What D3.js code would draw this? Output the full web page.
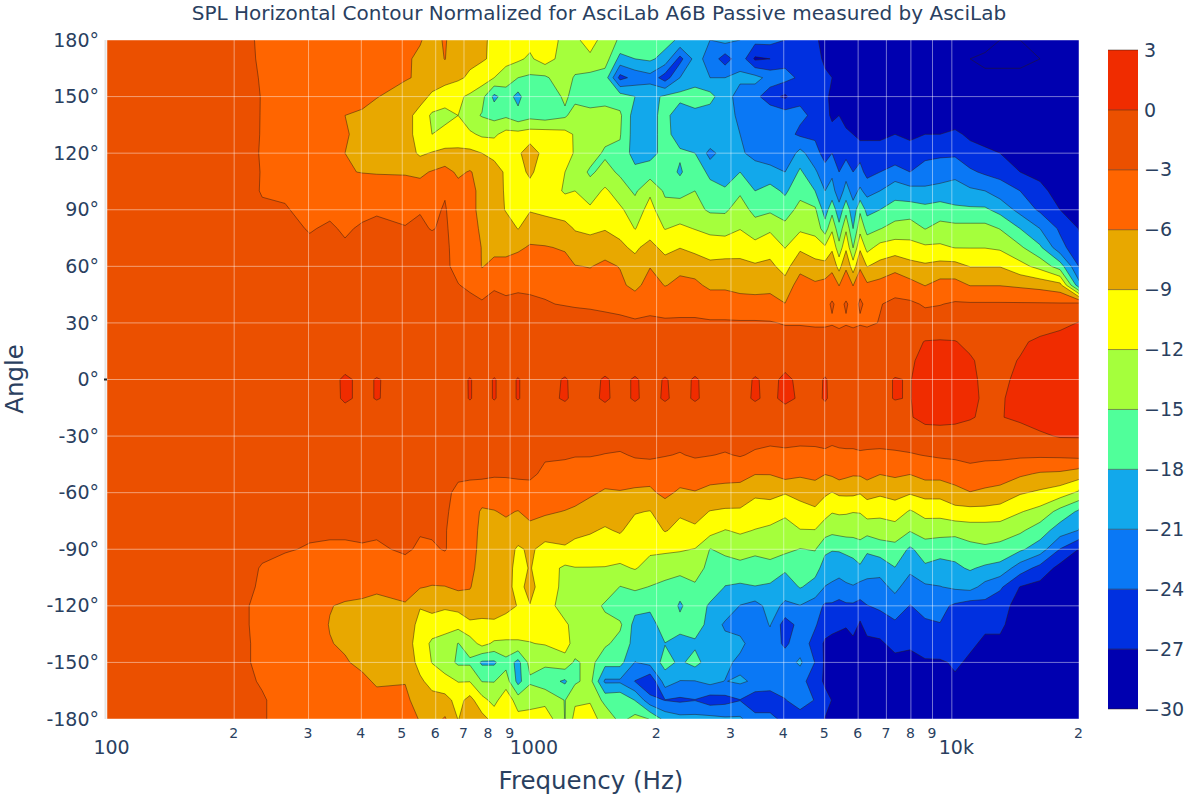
<!DOCTYPE html>
<html>
<head>
<meta charset="utf-8">
<script src="https://cdn.jsdelivr.net/npm/d3@7"></script>
<style>
  html, body { margin: 0; padding: 0; background: #fff; }
  text { font-family: "DejaVu Sans", sans-serif; fill: #2a3f5f; }
  .domain { display: none; }
</style>
</head>
<body>
<div id="chart"></div>
<script>
const frequencies = [100,166,212,233,264,302,337,366,402,435,
  508,551,588,631,678,723,772,825,880,940,
  1003,1089,1214,1282,1392,1510,1639,1778,1930,2094,
  2272,2466,2677,2905,3153,3421,3713,4029,4372,4745,
  5010,5205,5408,5617,5837,6065,6299,6761,7336,7962,
  8642,9378,10177,11045,11985,13005,14507,16173,18039,20000];
const angles = [180,170,160,150,140,130,120,110,100,90,80,70,60,50,40,30,20,10,0,
  -10,-20,-30,-40,-50,-60,-70,-80,-90,-100,-110,-120,-130,-140,-150,-160,-170,-180];
const levels = [-30,-27,-24,-21,-18,-15,-12,-9,-6,-3,0,3];
const bandColors = ['#0000b0','#0030e0','#0a78f5','#12a8eb','#50ff9a','#a5ff3c','#ffff00','#e8a800','#ff6500','#eb5000','#f02c00'];
const angleTicks = [180,150,120,90,60,30,0,-30,-60,-90,-120,-150,-180];
const freqTicks = [100,200,300,400,500,600,700,800,900,1000,2000,3000,4000,5000,6000,7000,8000,9000,10000,20000];
const freqLabels = ['100','2','3','4','5','6','7','8','9','1000','2','3','4','5','6','7','8','9','10k','2'];

const row180 = [-2,-2,-2.5,-3.4,-4,-4.2,-4.5,-4.8,-5,-5.2, -5.5,-5.8,-7,-5.7,-8,-8.3,-8.2,-10,-11,-10.5, -11,-10,-13,-12.5,-11,-13,-15.5,-17,-15,-17, -18.5,-20,-21,-20,-21,-23,-23,-24,-25,-26.5, -28,-28,-27.5,-28,-28,-28,-29,-29,-30,-29.5, -30,-29,-30,-30,-29,-30,-30,-30,-30,-30];
const row170 = [-2,-2,-2.5,-3.3,-3.8,-4,-4.3,-4.6,-5,-5.3, -5.6,-6.5,-7.5,-5.9,-8.5,-8.3,-8.7,-9.5,-11,-11.5, -12.5,-10.5,-13.5,-12.5,-12.5,-13.5,-19,-18,-17.5,-19, -25,-20,-22,-25.5,-22,-27.5,-27,-25,-27,-26, -27.5,-28,-28.5,-28,-29,-28,-27.8,-28.5,-29,-29.5, -29,-29.5,-29.5,-30,-30.5,-30.5,-30.5,-30,-30,-30];
const row160 = [-2,-2,-2.3,-3.2,-3.6,-3.8,-4,-4.5,-5,-5.5, -5.8,-6.3,-7.5,-8,-8.5,-9.5,-10.5,-12,-13.5,-15, -15.5,-15.5,-13,-15.5,-16,-16.5,-25,-23,-22,-25.5, -21,-20.5,-21,-21,-20.5,-20,-22,-23,-24.5,-25.5, -26.5,-27,-27.5,-28,-28.5,-28,-28,-28.5,-28.5,-28, -28.5,-29,-29,-29.5,-29.5,-29.5,-29.5,-30,-30,-30];
const row150 = [-2,-2,-2.2,-3.1,-3.4,-3.6,-3.8,-4.2,-5,-5.9, -7,-8,-9.5,-10.5,-11.5,-12.5,-14,-18.8,-16.5,-19, -15.5,-17,-14.5,-16,-16.5,-16.5,-16.5,-18,-19,-17.5, -17,-15.5,-17,-20,-22,-23,-26,-27.5,-24.5,-25.5, -26.5,-27.5,-27.5,-28,-28,-28.5,-28.5,-29,-29,-29, -28.5,-28.5,-29,-29,-29.5,-29.5,-29.5,-30,-30,-30];
const row140 = [-2,-2,-2.3,-3.1,-3.2,-3.4,-4.5,-6,-6.5,-7, -8,-10,-12.5,-13,-12,-14,-15.2,-16,-15.5,-17, -16,-16.5,-15.5,-13.5,-14,-13.5,-14.5,-19.5,-19,-17, -20,-19.5,-19.5,-20,-21.5,-21,-21.5,-22.5,-23.5,-24.5, -26,-27.5,-27,-28,-27.5,-28,-28,-27.5,-27.5,-28, -28,-28,-28.5,-28.5,-29,-29,-29.5,-30,-30,-30];
const row130 = [-2,-2,-2.4,-3.1,-3.2,-3.4,-4.5,-5.9,-6.3,-7, -8,-10,-12,-11,-11,-11.5,-12.5,-12.5,-11,-11, -10.5,-10.5,-11,-12.3,-13.5,-14,-14.8,-19.5,-19,-17, -19.5,-19,-18,-20,-21,-22,-22,-23,-24.5,-24.5, -25,-26,-27,-26.5,-27,-28,-27.5,-27.5,-27,-27.5, -27,-27,-26.5,-27.5,-28,-28.5,-29,-29.5,-30,-30];
const row120 = [-2,-2,-2.6,-3.1,-3.1,-3.3,-4.4,-6,-6.5,-6.8, -7.5,-9.5,-8.8,-8.3,-8.2,-8.3,-9,-10,-9.8,-9.5, -7.5,-10,-9.8,-12.5,-13.5,-15.5,-15.5,-19.5,-19,-17, -17.5,-18,-22,-19.5,-20.5,-22,-23,-23.5,-20,-23, -25,-24,-26,-25,-26,-25,-26,-26,-26.5,-26, -25,-24.5,-24.5,-26,-26.5,-27,-28,-29,-30,-30];
const row110 = [-2,-2,-2.3,-3.1,-3.1,-3.2,-4,-5.8,-6.1,-6.2, -6.2,-6.5,-5.8,-5,-6.5,-5.8,-7,-7.5,-9.5,-10, -8.5,-10.5,-12,-13,-15.5,-14,-15.5,-17,-16.5,-16, -18.5,-15.5,-19,-20,-18,-19.5,-19.8,-21,-17.5,-20.5, -23,-21.5,-24,-22,-24,-23,-25,-24,-22.5,-24, -22.5,-22.5,-22,-23.5,-24.5,-25,-27,-28,-29,-30];
const row100 = [-2,-2,-2.5,-3.1,-3.2,-3.6,-3.6,-3.8,-4.2,-4.5, -5,-5,-4.5,-3.2,-5,-5,-7,-7.5,-9.4,-9.8, -10,-10.5,-12.3,-12,-13.5,-11.5,-13.5,-15.5,-12.5,-15.5, -16,-15,-16.5,-17.5,-15.5,-18,-17,-18.5,-16,-18, -21,-20,-22.5,-20,-22,-20.5,-22,-21,-19.5,-20, -20.5,-20,-19.5,-20.5,-21,-22.5,-24,-26,-28.5,-29.5];
const row90 = [-2,-2,-2.2,-2.8,-2.9,-3.4,-3.3,-3.6,-3.4,-3.2, -3.5,-3.1,-3.5,-2.8,-4.5,-5,-7,-7.5,-9.2,-9.5, -9.2,-9.5,-10.5,-11,-11.5,-10,-11.5,-13.5,-11,-14, -13.5,-14,-15.5,-15.5,-13.5,-16,-15.5,-16.5,-14,-14.5, -19.5,-16,-20,-16,-20,-15.5,-19,-18,-16.5,-16.5, -17,-16.5,-17.5,-17.5,-17.5,-19,-22,-24.5,-27,-28];
const row80 = [-1.8,-1.8,-2,-2.5,-2.6,-3.1,-2.8,-3.2,-2.8,-2.6, -2.9,-2.7,-3.1,-2.7,-4,-4.8,-6.5,-7,-7.5,-9.1, -7.5,-8,-8,-9.2,-9.5,-9.2,-9.7,-12.1,-10.5,-12.1, -11.5,-12.1,-12.5,-13,-12.1,-13.5,-12.5,-14,-12.5,-13, -16.5,-12.5,-17,-12.5,-18,-13,-16,-15.1,-14,-13.5, -15.1,-14,-14,-14,-14,-15.1,-18,-21,-24.5,-27.1];
const row70 = [-1.6,-1.6,-1.8,-2,-2.2,-2.7,-2.4,-2.8,-2.4,-2.2, -2.6,-2.3,-2.2,-2.5,-4,-4.5,-6.1,-6.5,-6.5,-6.5, -5.7,-5.8,-6.3,-7.5,-8,-7,-8.5,-9.5,-8,-10, -9.1,-10,-11,-10.5,-10,-11,-10,-12.1,-9.5,-10.5, -11.5,-9.5,-14,-9.5,-15.1,-9.5,-13,-11,-10.5,-11, -11.5,-11.5,-12.1,-12.1,-12.1,-12.5,-14.5,-17.5,-23,-26];
const row60 = [-1.5,-1.5,-1.6,-1.7,-1.8,-1.9,-2,-2,-2,-2, -2.1,-2,-2,-2.5,-3.8,-4,-6.1,-5.5,-5.5,-4.5, -4.2,-5,-5,-5.9,-6.1,-5.5,-6.1,-8,-6.1,-7.5, -6.5,-7,-8,-8,-8.3,-8.6,-8.4,-10,-7,-8, -8,-7,-10,-6.5,-10.5,-6.5,-9.1,-8,-7,-8, -8.5,-8,-8,-9.1,-9.1,-9.1,-11,-13,-16.5,-24.1];
const row50 = [-1.4,-1.4,-1.5,-1.5,-1.6,-1.7,-1.8,-1.8,-1.8,-1.9, -1.9,-1.9,-2,-2.2,-2.9,-3.5,-4.8,-3.2,-3.5,-3.2, -3.2,-3.3,-4.5,-4.5,-5,-5,-5.5,-6.7,-5,-6.1, -5.5,-5.5,-6.5,-6.5,-6.8,-7,-6.8,-8,-4.5,-5.5, -5,-4,-6.1,-4,-6.1,-3.5,-5.5,-5,-4,-5, -6.1,-5,-5,-6.1,-6.1,-6.1,-6.5,-7,-8,-20];
const row40 = [-1.3,-1.3,-1.3,-1.4,-1.4,-1.5,-1.5,-1.6,-1.6,-1.6, -1.7,-1.7,-1.7,-1.8,-2,-2.2,-2.5,-2.5,-2.6,-2.7, -2.8,-2.9,-3.1,-3.2,-3.3,-3.5,-3.8,-4.5,-3.8,-4.2, -4,-4,-4.5,-4.5,-5,-5,-5,-5.9,-3.2,-4, -3.5,-2.8,-3.5,-2.8,-3.6,-2.8,-3.3,-3.1,-2.5,-2.5, -3.3,-3.1,-2.7,-2.7,-2.7,-2.7,-2.7,-2.7,-2.7,-2];
const row30 = [-1.2,-1.2,-1.2,-1.2,-1.2,-1.3,-1.3,-1.3,-1.3,-1.3, -1.4,-1.4,-1.4,-1.5,-1.5,-1.6,-1.7,-1.7,-1.7,-1.8, -1.9,-2,-2,-2.1,-2.2,-2.3,-2.4,-2.6,-2.5,-2.6, -2.6,-2.6,-2.7,-2.7,-2.7,-2.7,-2.8,-3.2,-3.2,-3.4, -3.4,-3.2,-3.6,-3.2,-3.5,-3.2,-3.4,-2.9,-2.5,-2, -1.8,-1.7,-1.6,-1.6,-1.6,-1.5,-1.2,-1,-0.6,0.1];
const row20 = [-1.1,-1.1,-1.1,-1.1,-1.1,-1.1,-1.1,-1.1,-1.1,-1.1, -1.2,-1.2,-1.2,-1.2,-1.3,-1.3,-1.3,-1.3,-1.4,-1.4, -1.4,-1.5,-1.5,-1.5,-1.6,-1.6,-1.6,-1.7,-1.7,-1.7, -1.7,-1.7,-1.7,-1.7,-1.7,-1.7,-1.6,-1.7,-1.7,-1.6, -1.6,-1.6,-1.6,-1.6,-1.6,-1.6,-1.6,-1.5,-1.3,-0.8, 0.1,0.2,0.1,-0.6,-1,-1,-0.3,0.4,0.9,1.5];
const row10 = [-0.9,-0.9,-0.9,-0.9,-0.9,-0.9,-0.9,-0.8,-0.9,-0.9, -0.9,-1,-1,-1,-1,-0.9,-0.9,-0.9,-0.9,-0.9, -1,-1,-0.9,-0.9,-1,-0.9,-0.9,-1,-1,-0.9, -1,-1,-1,-1,-1,-0.8,-0.7,-0.5,-0.6,-1, -0.9,-1,-1,-1,-1,-1,-1,-1,-0.8,-0.4, 0.8,1,0.9,0.3,-0.7,-0.5,0.1,0.8,1.2,1.8];
const row0 = [-0.7,-0.7,-0.7,-0.7,-0.7,-0.6,-0.6,0.3,-0.4,0.1, -0.6,-0.6,-0.6,-0.6,-0.5,0.1,-0.6,0.1,-0.5,0.1, -0.6,-0.6,0.15,-0.4,-0.5,0.2,-0.5,0.2,-0.6,0.15, -0.6,0.2,-0.6,-0.6,-0.6,0.15,-0.4,0.3,-0.3,-0.5, 0.15,-0.4,-0.6,-0.6,-0.6,-0.5,-0.5,-0.5,0.1,-0.1, 1,1.2,1,0.5,-0.5,-0.2,0.2,1,1.5,2];
const rowM10 = [-0.8,-0.8,-0.8,-0.8,-0.8,-0.7,-0.7,0.3,-0.4,0.1, -0.7,-0.7,-0.7,-0.7,-0.6,0.1,-0.6,0.1,-0.5,0.1, -0.6,-0.5,0.2,-0.4,-0.4,0.25,-0.5,0.2,-0.5,0.2, -0.5,0.2,-0.5,-0.6,-0.5,0.2,-0.4,0.4,-0.2,-0.5, 0.2,-0.4,-0.5,-0.5,-0.5,-0.5,-0.5,-0.5,0.1,-0.1, 1.2,1.4,1.2,0.6,-0.4,-0.1,0.3,1.2,1.6,2];
const rowM20 = [-1,-1,-1,-1,-1,-1,-1,-0.9,-1,-1, -1,-1,-1,-1,-1,-1,-1,-1,-1,-1, -1,-1,-1,-1,-1,-0.9,-0.9,-1,-1,-1, -1,-1,-1,-1,-1,-1,-1,-0.9,-0.9,-1, -1,-1,-1,-1,-1,-1,-1,-1,-1,-0.2, 0.8,0.9,0.7,0.2,-0.4,-0.1,0.4,1.1,1.3,1.5];
const rowM30 = [-1.3,-1.3,-1.3,-1.3,-1.3,-1.3,-1.3,-1.3,-1.3,-1.3, -1.3,-1.3,-1.3,-1.3,-1.3,-1.3,-1.4,-1.4,-1.4,-1.4, -1.5,-1.5,-1.5,-1.6,-1.6,-1.6,-1.7,-1.7,-1.7,-1.8, -1.8,-1.8,-1.8,-1.9,-1.9,-2,-2,-2,-2,-2, -2,-2,-2,-2,-2,-2,-2,-2,-1.8,-1.6, -1.3,-1.2,-1.2,-1.2,-1.2,-1.3,-1,-0.4,0.2,0.2];
const rowM40 = [-1.5,-1.5,-1.5,-1.5,-1.5,-1.5,-1.5,-1.5,-1.5,-1.5, -1.5,-1.5,-1.5,-1.6,-2,-2.2,-2.2,-2.3,-2.3,-2.3, -2.3,-2.7,-2.8,-2.9,-2.8,-3.1,-3.3,-2.7,-2.4,-2.8, -3.2,-2.6,-2.9,-3.2,-2.8,-3.4,-3.9,-3.6,-3.9,-3.8, -3.5,-4,-3.6,-3.5,-3.5,-3.3,-3.4,-3.5,-3.4,-3.2, -2.9,-2.6,-2.5,-2.2,-2.3,-2.4,-2.5,-2.5,-2.4,-2];
const rowM50 = [-1.6,-1.6,-1.6,-1.6,-1.6,-1.6,-1.6,-1.6,-1.6,-1.7, -1.8,-1.8,-1.6,-1.7,-2.6,-2.6,-2.6,-2.6,-2.6,-2.6, -2.5,-3.5,-3.6,-3.8,-4.8,-4.5,-4.5,-4.6,-5,-5.2, -4.6,-5,-5,-5,-5,-5.9,-5.9,-4.8,-5.6,-5.2, -5.9,-5.5,-4.8,-5.3,-5.7,-5.6,-5,-5.9,-5.5,-5.9, -5,-5,-4.5,-4,-4.5,-4.5,-5.5,-6.3,-6.5,-7.5];
const rowM60 = [-1.7,-1.7,-1.7,-1.7,-1.7,-1.7,-1.7,-1.7,-1.8,-1.9, -2,-2,-1.7,-2.5,-3.5,-3.8,-4,-4.8,-4.6,-4, -4,-4.2,-4.5,-4.7,-5.5,-6.4,-6.2,-6.5,-6.5,-5.3, -6.5,-6.1,-6.7,-7,-7.2,-8.4,-8,-8.8,-7.8,-7.5, -8.5,-9.1,-8.5,-8.4,-8.4,-8.8,-8,-8.5,-8,-8.7, -8,-8,-7,-6.1,-6.5,-7,-8.7,-9.5,-10.5,-12.5];
const rowM70 = [-2,-2,-2,-2,-2,-2,-2,-2,-2,-2, -2.2,-2.1,-2,-2.8,-3.5,-4,-6.5,-6.1,-5.7,-6.1, -5,-5.6,-6.1,-6.5,-7.5,-7.8,-7.5,-8.8,-9.1,-7.5, -8.6,-8,-9.1,-9.4,-9.4,-10.5,-10.7,-11.5,-10.5,-9.5, -11,-11.8,-11.6,-11.7,-11.9,-11.8,-10.7,-11.2,-10.5,-12.3, -11,-11,-10,-10,-10,-10.3,-11.8,-13,-16,-18.5];
const rowM80 = [-2.1,-2.1,-2.1,-2.2,-2.6,-2.8,-2.8,-2.9,-2.8,-2.8, -2.9,-2.9,-2.8,-2.9,-3.7,-4.2,-7,-7,-6.7,-7, -7,-7.5,-7.6,-8.2,-8.7,-9.3,-8.7,-10.2,-10.5,-8.8, -9.8,-9.5,-10.8,-12.1,-11.6,-12.1,-12.5,-13,-12.1,-12.1, -13.5,-14.2,-13.9,-13.7,-13.8,-14,-14,-13.5,-13.3,-14.8, -13.7,-13.8,-14,-13.5,-13.5,-13.5,-14.5,-16.5,-19.5,-21.1];
const rowM90 = [-2.2,-2.2,-2.3,-2.7,-2.9,-3.1,-3.2,-3.1,-3.1,-3.2, -2.8,-3.2,-3.2,-2.9,-3.8,-4.5,-7.2,-7.4,-7.5,-9.5, -8.5,-10,-9.4,-10,-10.2,-10.8,-10.5,-11,-11.5,-11.5, -11.7,-12.1,-15.1,-14.2,-13.6,-14.3,-13.8,-14.2,-15.1,-14.8, -17.5,-17.8,-17.7,-17.4,-17,-16,-17.5,-16.5,-16,-18.5, -16.5,-17,-17,-16,-15.5,-16,-17.5,-19.5,-24.1,-27.1];
const rowM100 = [-2.3,-2.3,-2.6,-3.1,-3.4,-3.6,-3.7,-3.6,-3.7,-3.8, -3.5,-3.8,-4,-3.9,-4.2,-5,-7.5,-7.7,-7.8,-10, -8.8,-10.7,-12.5,-12.1,-12.1,-12.1,-12.5,-11.8,-13,-13.7, -14,-13.5,-16,-16.5,-16,-16.3,-16,-17.5,-17,-17, -19.1,-19.7,-19.9,-19.4,-19.1,-18.5,-19.7,-20,-18.1,-20.3, -18.5,-19,-18.5,-17.7,-18.5,-19,-22.5,-25,-28,-28];
const rowM110 = [-2.4,-2.4,-2.7,-3.2,-3.6,-4,-4.5,-5,-5.2,-5.7, -5.2,-5.8,-6.2,-6.1,-5.5,-5.8,-7.8,-8,-8.2,-9.8, -8.2,-10.5,-12.7,-12.7,-13,-13,-15.1,-14.5,-15.1,-15.7, -16.5,-15.5,-16,-18.1,-18.5,-18.1,-18.5,-19.7,-17.8,-19, -21.1,-21.5,-22,-21.5,-21.2,-22,-22,-22,-20.2,-22.5, -21.5,-21.1,-20.5,-20,-22,-23.5,-27.1,-28,-29,-28.5];
const rowM120 = [-2.5,-2.5,-2.9,-3.3,-3.8,-4.5,-5.9,-6.3,-6.5,-6.5, -6.2,-8.8,-8,-8.5,-8,-7.5,-8,-8.5,-8.3,-9.1, -9.1,-10.5,-13.5,-12.8,-13.5,-15.5,-17,-17,-17,-15.1, -18.5,-16,-18.5,-19,-21.1,-22,-20,-21.5,-21.1,-22.5, -24.5,-24.5,-25,-24.5,-24.5,-25,-24.1,-23.5,-22.5,-24.1, -23,-23.2,-24.5,-25.5,-25,-26,-28,-29,-29.5,-29];
const rowM130 = [-2.6,-2.6,-2.9,-3.3,-4,-4.8,-6.1,-6.5,-7,-7, -7,-10,-10.5,-11,-11,-9.5,-9.5,-9.2,-10,-10, -11,-11,-11.5,-13,-14,-14,-14.5,-19,-20,-15.5, -17,-16.5,-19,-21.5,-22.5,-23,-20.8,-25.5,-23,-23.7, -25.5,-26,-26.5,-26.8,-25.5,-27.5,-25.5,-25.5,-24.5,-25.5, -24.5,-24.1,-25.5,-26,-26.5,-26.5,-28.5,-29.5,-30,-29.5];
const rowM140 = [-2.7,-2.7,-2.9,-3.2,-4,-4.8,-5.9,-6.3,-7,-7.3, -7.5,-10.5,-12.5,-13,-15.1,-13.5,-11,-12.5,-12.5,-12.5, -12.1,-11.8,-11,-13,-14,-14.5,-16,-19,-18.1,-18.1, -19,-18.5,-19,-20,-20,-23,-22.5,-24.5,-22.5,-25, -27.5,-28,-28,-28,-28,-28,-28,-27.5,-26,-26.5, -25,-24.5,-25.5,-26.5,-27.5,-27.5,-29,-29.5,-30,-30];
const rowM150 = [-2.7,-2.7,-2.9,-3.2,-3.8,-4.4,-5.2,-5.8,-6.5,-7, -7,-10,-12.1,-13.5,-15.5,-15.5,-18.5,-18.5,-16,-19, -14,-14.5,-13,-15.5,-14,-17,-17,-21.1,-20,-17, -18.5,-17,-19.5,-20,-22,-23,-22.5,-22.5,-20.5,-24.1, -27.5,-28,-28.5,-28.5,-28.5,-28,-28.5,-28,-28,-28, -27.5,-27.5,-26.5,-27.5,-28,-28,-29,-30,-30,-30];
const rowM160 = [-2.6,-2.6,-2.8,-3.1,-3.6,-4,-4.6,-5,-5.5,-6.3, -6.1,-8.5,-10,-11,-12.1,-12.1,-15.1,-15.1,-13.5,-19, -15.5,-16.5,-18.5,-15.5,-14,-21.5,-21.5,-24.1,-26.5,-19.5, -21.1,-21.1,-20,-21.1,-20.5,-21.5,-22,-23,-23,-25.5, -27.5,-27.5,-28,-28,-29,-28,-28,-28.5,-28.5,-28.5, -28,-28,-27.5,-28,-28.5,-29,-30,-30,-30,-30];
const rowM170 = [-2.5,-2.5,-2.7,-2.9,-3.4,-3.8,-4.2,-4.7,-5,-5.3, -5.5,-7,-8,-8,-10,-8,-11,-13,-10,-13.5, -12.5,-13,-15.1,-12.5,-12.1,-16,-15.5,-18.1,-23,-24.1, -24.5,-24.1,-25.5,-25,-24.1,-26,-26,-24.1,-23,-24.1, -26,-27.1,-27.5,-28,-27.5,-28,-29,-29,-29,-28.5, -28,-28.5,-28,-28.5,-29,-29.5,-30,-29.5,-30,-30];
const rowM180 = [-2.4,-2.4,-2.6,-2.9,-3.4,-3.6,-4,-4.5,-4.7,-5, -5.3,-6.1,-7.3,-5.7,-9.1,-7.5,-8,-10,-10.5,-11, -11.5,-10,-15.1,-11,-11.5,-12.5,-16,-14,-15.1,-19, -20,-20,-20,-20.5,-20.5,-23,-23,-25,-25,-25.5, -27.1,-28,-28,-28,-28,-28,-28,-28,-29,-29, -29,-29.5,-29.5,-29.5,-30,-30,-30,-29.5,-30,-30];

const rows = [row180,row170,row160,row150,row140,row130,row120,row110,row100,row90,row80,row70,row60,row50,row40,row30,row20,row10,row0,
  rowM10,rowM20,rowM30,rowM40,rowM50,rowM60,rowM70,rowM80,rowM90,rowM100,rowM110,rowM120,rowM130,rowM140,rowM150,rowM160,rowM170,rowM180];

const margin = {top: 40, right: 121, bottom: 81, left: 107};
const width = 1200 - margin.left - margin.right;
const height = 800 - margin.top - margin.bottom;

const xScale = d3.scaleLog().domain([100, 20000]).range([0, width]);
const yScale = d3.scaleLinear().domain([-180, 180]).range([height, 0]);
const barScale = d3.scaleLinear().domain([-30, 3]).range([709 - margin.top, 50 - margin.top]);

const svg = d3.select('#chart').append('svg').attr('width', 1200).attr('height', 800);
svg.append('defs').append('clipPath').attr('id', 'plot-clip').append('rect')
  .attr('width', width).attr('height', height);

const plot = svg.append('g').attr('transform', 'translate(' + margin.left + ',' + margin.top + ')');

// d3.contours puts value i at i + 0.5, so map grid coordinates back onto the log axis
const nx = frequencies.length, ny = angles.length;
const gridX = d3.scaleLinear()
  .domain([0].concat(frequencies.map((f, i) => i + 0.5), [nx]))
  .range([-4].concat(frequencies.map(f => xScale(f)), [width + 4]));
const gridY = d3.scaleLinear()
  .domain([0].concat(angles.map((a, i) => i + 0.5), [ny]))
  .range([-4].concat(angles.map(a => yScale(a)), [height + 4]));

const path = d3.geoPath(d3.geoTransform({
  point: function (x, y) { this.stream.point(gridX(x), gridY(y)); }
}));

const contours = d3.contours().size([nx, ny]).thresholds(levels.slice(0, -1))(rows.flat());

const field = plot.append('g').attr('clip-path', 'url(#plot-clip)');
field.append('rect').attr('width', width).attr('height', height).attr('fill', bandColors[0]);
field.selectAll('path').data(contours).enter().append('path')
  .attr('d', path)
  .attr('fill', (d, i) => bandColors[i])
  .attr('stroke', '#2b1a10')
  .attr('stroke-opacity', 0.6)
  .attr('stroke-width', 0.8);

// grid sits on top of the contours
plot.append('g').selectAll('line').data(freqTicks).enter().append('line')
  .attr('x1', d => xScale(d)).attr('x2', d => xScale(d)).attr('y1', 0).attr('y2', height)
  .attr('stroke', '#fff').attr('stroke-opacity', 0.45);
plot.append('g').selectAll('line').data(angleTicks).enter().append('line')
  .attr('y1', d => yScale(d)).attr('y2', d => yScale(d)).attr('x1', 0).attr('x2', width)
  .attr('stroke', '#fff').attr('stroke-opacity', 0.45);

const isMinor = i => /^\d$/.test(freqLabels[i]);
const xAxis = d3.axisBottom(xScale).tickValues(freqTicks).tickSize(0)
  .tickFormat((d, i) => freqLabels[i]);
plot.append('g').attr('transform', 'translate(0,' + height + ')').call(xAxis)
  .selectAll('text')
  .style('font-size', (d, i) => isMinor(i) ? '14px' : '19px')
  .attr('dy', 0)
  .attr('y', (d, i) => isMinor(i) ? 19 : 35)
  .attr('dx', (d, i) => isMinor(i) ? -1 : 4);

const yAxis = d3.axisLeft(yScale).tickValues(angleTicks).tickSize(0).tickFormat(d => d + '°');
plot.append('g').call(yAxis).selectAll('text').style('font-size', '19px').attr('x', -8);

plot.append('line').attr('x1', -1.5).attr('x2', -1.5).attr('y1', 0).attr('y2', height)
  .attr('stroke', '#e4e4e4').attr('stroke-width', 2);
plot.append('line').attr('x1', -3).attr('x2', 0).attr('y1', yScale(0)).attr('y2', yScale(0))
  .attr('stroke', '#222').attr('stroke-width', 2);

svg.append('text').attr('x', 599).attr('y', 20).attr('text-anchor', 'middle').style('font-size', '20px')
  .text('SPL Horizontal Contour Normalized for AsciLab A6B Passive measured by AsciLab');
svg.append('text').attr('x', 591).attr('y', 789).attr('text-anchor', 'middle').style('font-size', '24.5px')
  .text('Frequency (Hz)');
svg.append('text').attr('transform', 'translate(23,379) rotate(-90)').attr('text-anchor', 'middle').style('font-size', '24.5px')
  .text('Angle');

// colorbar
const bar = plot.append('g').attr('transform', 'translate(' + (1108 - margin.left) + ',0)');
bar.selectAll('rect').data(bandColors).enter().append('rect')
  .attr('x', 0).attr('width', 30)
  .attr('y', (d, i) => barScale(levels[i + 1]))
  .attr('height', (d, i) => barScale(levels[i]) - barScale(levels[i + 1]))
  .attr('fill', d => d);
bar.selectAll('line').data(levels).enter().append('line')
  .attr('x1', 0).attr('x2', 30).attr('y1', d => barScale(d)).attr('y2', d => barScale(d))
  .attr('stroke', '#2b1a10').attr('stroke-opacity', 0.6).attr('stroke-width', 0.8);
const barAxis = d3.axisRight(barScale).tickValues(levels).tickSize(0).tickFormat(d => d < 0 ? '−' + (-d) : '' + d);
bar.append('g').attr('transform', 'translate(30,0)').call(barAxis)
  .selectAll('text').style('font-size', '19px').attr('x', 6);
</script>
</body>
</html>
